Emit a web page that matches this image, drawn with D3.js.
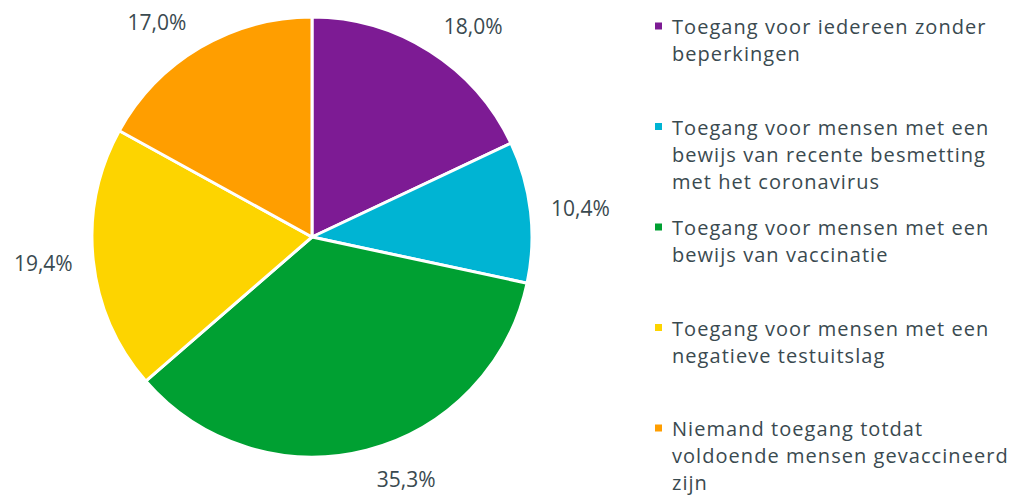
<!DOCTYPE html>
<html>
<head>
<meta charset="utf-8">
<script src="https://cdn.jsdelivr.net/npm/d3@7"></script>
<style>
  body { margin: 0; background: #fff; }
  text { font-family: 'Open Sans', sans-serif; fill: #3a4a50; }
</style>
</head>
<body>
<div class="d3-container"></div>
<script>
const w = 1016
const h = 495

// data
const categories = [
    'Toegang voor iedereen zonder beperkingen',
    'Toegang voor mensen met een bewijs van recente besmetting met het coronavirus',
    'Toegang voor mensen met een bewijs van vaccinatie',
    'Toegang voor mensen met een negatieve testuitslag',
    'Niemand toegang totdat voldoende mensen gevaccineerd zijn'
]
const legendLines = [
    ['Toegang voor iedereen zonder', 'beperkingen'],
    ['Toegang voor mensen met een', 'bewijs van recente besmetting', 'met het coronavirus'],
    ['Toegang voor mensen met een', 'bewijs van vaccinatie'],
    ['Toegang voor mensen met een', 'negatieve testuitslag'],
    ['Niemand toegang totdat', 'voldoende mensen gevaccineerd', 'zijn']
]
const values = [18.0, 10.4, 35.3, 19.4, 17.0]
const colors = ['#7d1b94', '#00b4d3', '#00a032', '#fdd400', '#ff9e00']

const cx = 312
const cy = 237
const r = 220

const svg = d3.select('.d3-container')
    .append('svg')
    .attr('width', w)
    .attr('height', h)

const color = d3.scaleOrdinal().domain(categories).range(colors)

const pie = d3.pie().sort(null).value(d => d.v)
const arcs = pie(categories.map((c, i) => ({ c: c, v: values[i] })))

const arc = d3.arc().innerRadius(0).outerRadius(r)

const g = svg.append('g')
    .attr('transform', `translate(${cx}, ${cy})`)

g.selectAll('path')
    .data(arcs)
    .enter()
    .append('path')
    .attr('d', arc)
    .attr('fill', d => color(d.data.c))
    .attr('stroke', '#fff')
    .attr('stroke-width', 3)
    .attr('stroke-linejoin', 'round')

// labels outside the slices
const fmt = v => v.toFixed(1).replace('.', ',') + '%'
const mid = d => (d.startAngle + d.endAngle) / 2

g.selectAll('.lbl')
    .data(arcs)
    .enter()
    .append('text')
    .attr('class', 'lbl')
    .attr('font-size', 21)
    .attr('text-anchor', 'middle')
    .attr('dominant-baseline', 'central')
    .attr('x', d => Math.sin(mid(d)) * (r + 14) + Math.sign(Math.sin(mid(d))) * 36)
    .attr('y', d => -Math.cos(mid(d)) * (r + 30))
    .text(d => fmt(d.data.v))

// legend
const ly = d3.scalePoint()
    .domain(categories)
    .range([26, 428])

const legend = svg.append('g')
    .attr('transform', 'translate(655, 0)')

const items = legend.selectAll('g')
    .data(categories)
    .enter()
    .append('g')
    .attr('transform', d => `translate(0, ${ly(d)})`)

items.append('rect')
    .attr('x', 0)
    .attr('y', -3.5)
    .attr('width', 7)
    .attr('height', 7)
    .attr('fill', d => color(d))

items.append('text')
    .attr('font-size', 20)
    .attr('letter-spacing', 1.05)
    .attr('dominant-baseline', 'central')
    .selectAll('tspan')
    .data((d, i) => legendLines[i])
    .enter()
    .append('tspan')
    .attr('x', 17)
    .attr('y', (d, i) => i * 27)
    .text(d => d)
</script>
</body>
</html>
